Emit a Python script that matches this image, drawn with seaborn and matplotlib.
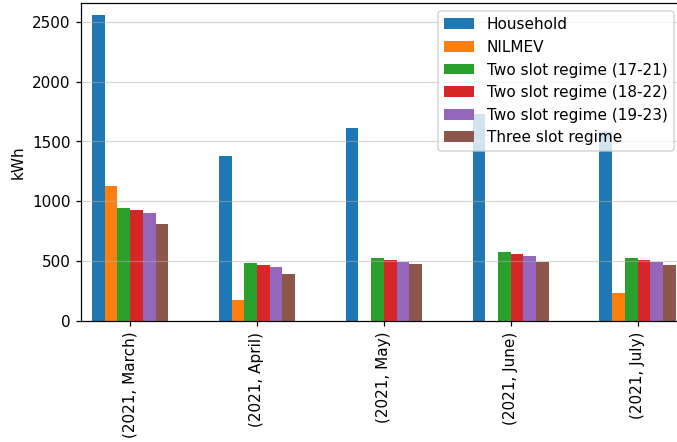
import numpy as np
import pandas as pd
import matplotlib
matplotlib.use("Agg")
import matplotlib.pyplot as plt
import seaborn as sns

# Monthly energy per method (kWh)
months = ["(2021, March)", "(2021, April)", "(2021, May)", "(2021, June)", "(2021, July)"]
series = [
    "Household",
    "NILMEV",
    "Two slot regime (17-21)",
    "Two slot regime (18-22)",
    "Two slot regime (19-23)",
    "Three slot regime",
]
household = [2560, 1377, 1614, 1726, 1580]
nilmev = [1128, 173, np.nan, np.nan, 232]
two_slot_17_21 = [941, 481, 525, 573, 525]
two_slot_18_22 = [924, 464, 508, 556, 508]
two_slot_19_23 = [905, 452, 494, 544, 489]
three_slot = [812, 389, 472, 489, 464]

values = [household, nilmev, two_slot_17_21, two_slot_18_22, two_slot_19_23, three_slot]
colors = ["#1f77b4", "#ff7f0e", "#2ca02c", "#d62728", "#9467bd", "#8c564b"]

records = []
for name, vals in zip(series, values):
    for m, v in zip(months, vals):
        records.append({"month": m, "method": name, "kWh": v})
df = pd.DataFrame(records)

DPI = 110
W, H = 677, 442
fig = plt.figure(figsize=((W + 0.3) / DPI, (H + 0.3) / DPI), dpi=DPI)
# plot area runs past the right edge of the canvas
left, right, top, bottom = 81, 700, 3.5, 320.7
ax = fig.add_axes([left / W, 1 - bottom / H, (right - left) / W, (bottom - top) / H])

sns.barplot(
    data=df, x="month", y="kWh", hue="method",
    order=months, hue_order=series, palette=colors,
    width=0.6, gap=0, errorbar=None, saturation=1, ax=ax,
)

# group spacing of ~126.8 px with the first group centred at x=130 px
x0 = -0.387
ax.set_xlim(x0, x0 + (right - left) / 126.8)
ax.set_ylim(0, 2657)
ax.set_yticks([0, 500, 1000, 1500, 2000, 2500])
ax.set_xlabel("")
ax.set_ylabel("kWh")
ax.set_axisbelow(False)
ax.grid(axis="y", color="#b0b0b0", linewidth=0.8, alpha=0.5, zorder=1.5)
ax.grid(axis="x", visible=False)
plt.setp(ax.get_xticklabels(), rotation=90)

ax.legend(loc="upper right", fontsize=10, title=None,
          bbox_to_anchor=(681 / W, 1 - 3.5 / H), bbox_transform=fig.transFigure)

fig.savefig("out.png", dpi=DPI)
